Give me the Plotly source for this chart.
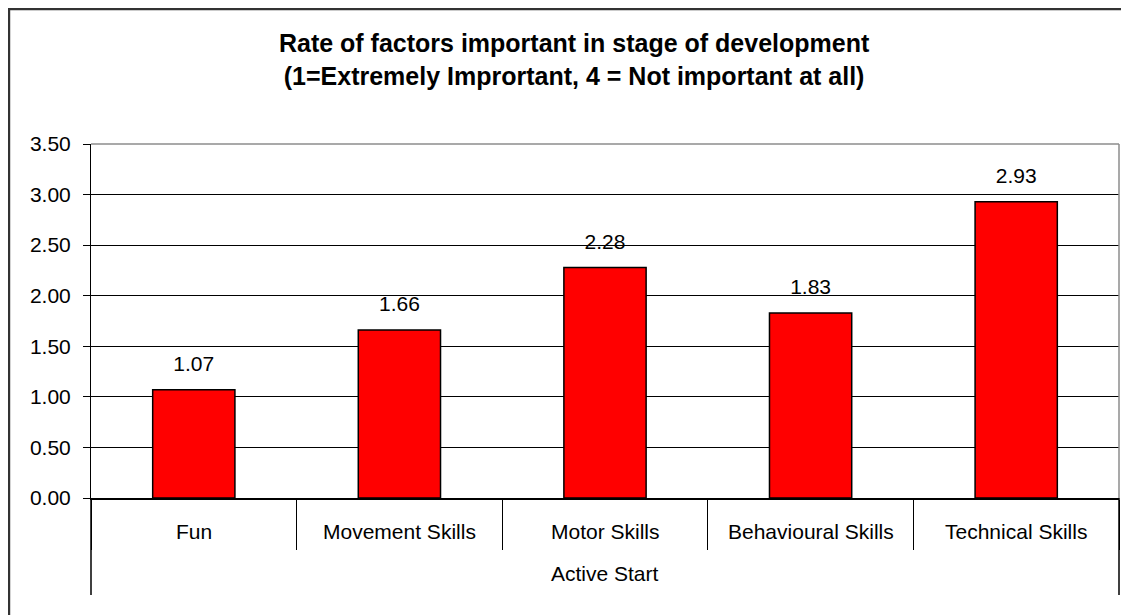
import plotly.graph_objects as go

# données
groupe = "Active Start"
facteurs = ["Fun", "Movement Skills", "Motor Skills", "Behavioural Skills", "Technical Skills"]
moyennes = [1.07, 1.66, 2.28, 1.83, 2.93]
graduations = [0, 0.5, 1.0, 1.5, 2.0, 2.5, 3.0, 3.5]

police = "Liberation Sans, Arial, sans-serif"
n = len(facteurs)

fig = go.Figure()

fig.add_trace(go.Bar(
    x=facteurs,
    y=moyennes,
    marker=dict(color="#ff0000", line=dict(color="#000000", width=1.5)),
    showlegend=False,
    hoverinfo="skip"
))

# étiquettes de valeurs (marqueur transparent pour décaler le texte vers le haut)
fig.add_trace(go.Scatter(
    x=facteurs,
    y=moyennes,
    mode="markers+text",
    marker=dict(size=20, color="rgba(0,0,0,0)"),
    texttemplate="%{y:.2f}",
    textposition="top center",
    textfont=dict(family=police, size=21, color="#000000"),
    cliponaxis=False,
    showlegend=False
))

fig.update_layout(
    width=1121,
    height=607,
    margin=dict(l=83, r=10, t=136, b=117),
    paper_bgcolor="white",
    plot_bgcolor="white",
    bargap=0.6,
    font=dict(family=police, size=21, color="#000000"),
    title=dict(
        text="<b>Rate of factors important in stage of development<br>(1=Extremely Imprortant, 4 = Not important at all)</b>",
        x=0.505, xanchor="center",
        y=0.927, yanchor="middle",
        font=dict(family=police, size=25, color="#000000")
    )
)

fig.update_yaxes(
    range=[0, 3.5],
    tickvals=graduations,
    tickformat=".2f",
    showgrid=True,
    gridcolor="#000000",
    gridwidth=1,
    showline=True,
    linecolor="#000000",
    linewidth=1,
    ticks="outside",
    ticklen=7,
    tickcolor="#000000",
    ticklabelstandoff=8,
    zeroline=False,
    tickfont=dict(size=21)
)

# axe des catégories : traits aux limites, libellés posés en annotations
fig.update_xaxes(
    type="category",
    range=[-0.5, n - 0.5],
    showline=True,
    linecolor="#000000",
    linewidth=1.5,
    ticks="outside",
    tickson="boundaries",
    ticklen=50,
    tickcolor="#000000",
    showticklabels=False
)

for f in facteurs:
    fig.add_annotation(text=f, x=f, xref="x", yref="y domain", y=-0.094,
                       showarrow=False, yanchor="middle",
                       font=dict(size=21, color="#000000"))

# libellé du groupe
fig.add_annotation(text=groupe, xref="x domain", yref="y domain", x=0.5, y=-0.212,
                   showarrow=False, font=dict(size=21, color="#000000"), yanchor="middle")

# séparateurs du groupe aux extrémités
for bord in [0, 1]:
    fig.add_shape(type="line", xref="x domain", yref="y domain", x0=bord, x1=bord, y0=0, y1=-0.274,
                  line=dict(color="#000000", width=1.5))

# bordure grise du haut et de droite de la zone de tracé
fig.add_shape(type="line", xref="x domain", yref="y domain", x0=0, x1=1, y0=1, y1=1,
              line=dict(color="#8c8c8c", width=1.5), layer="above")
fig.add_shape(type="line", xref="x domain", yref="y domain", x0=1, x1=1, y0=0, y1=1,
              line=dict(color="#8c8c8c", width=1.5), layer="above")

# cadre du graphique
fig.add_shape(type="rect", xref="paper", yref="paper",
              x0=-0.0798, x1=1.05, y0=-0.5, y1=1.3814,
              line=dict(color="#333333", width=2.5), layer="below")

fig.write_html("out.html")
